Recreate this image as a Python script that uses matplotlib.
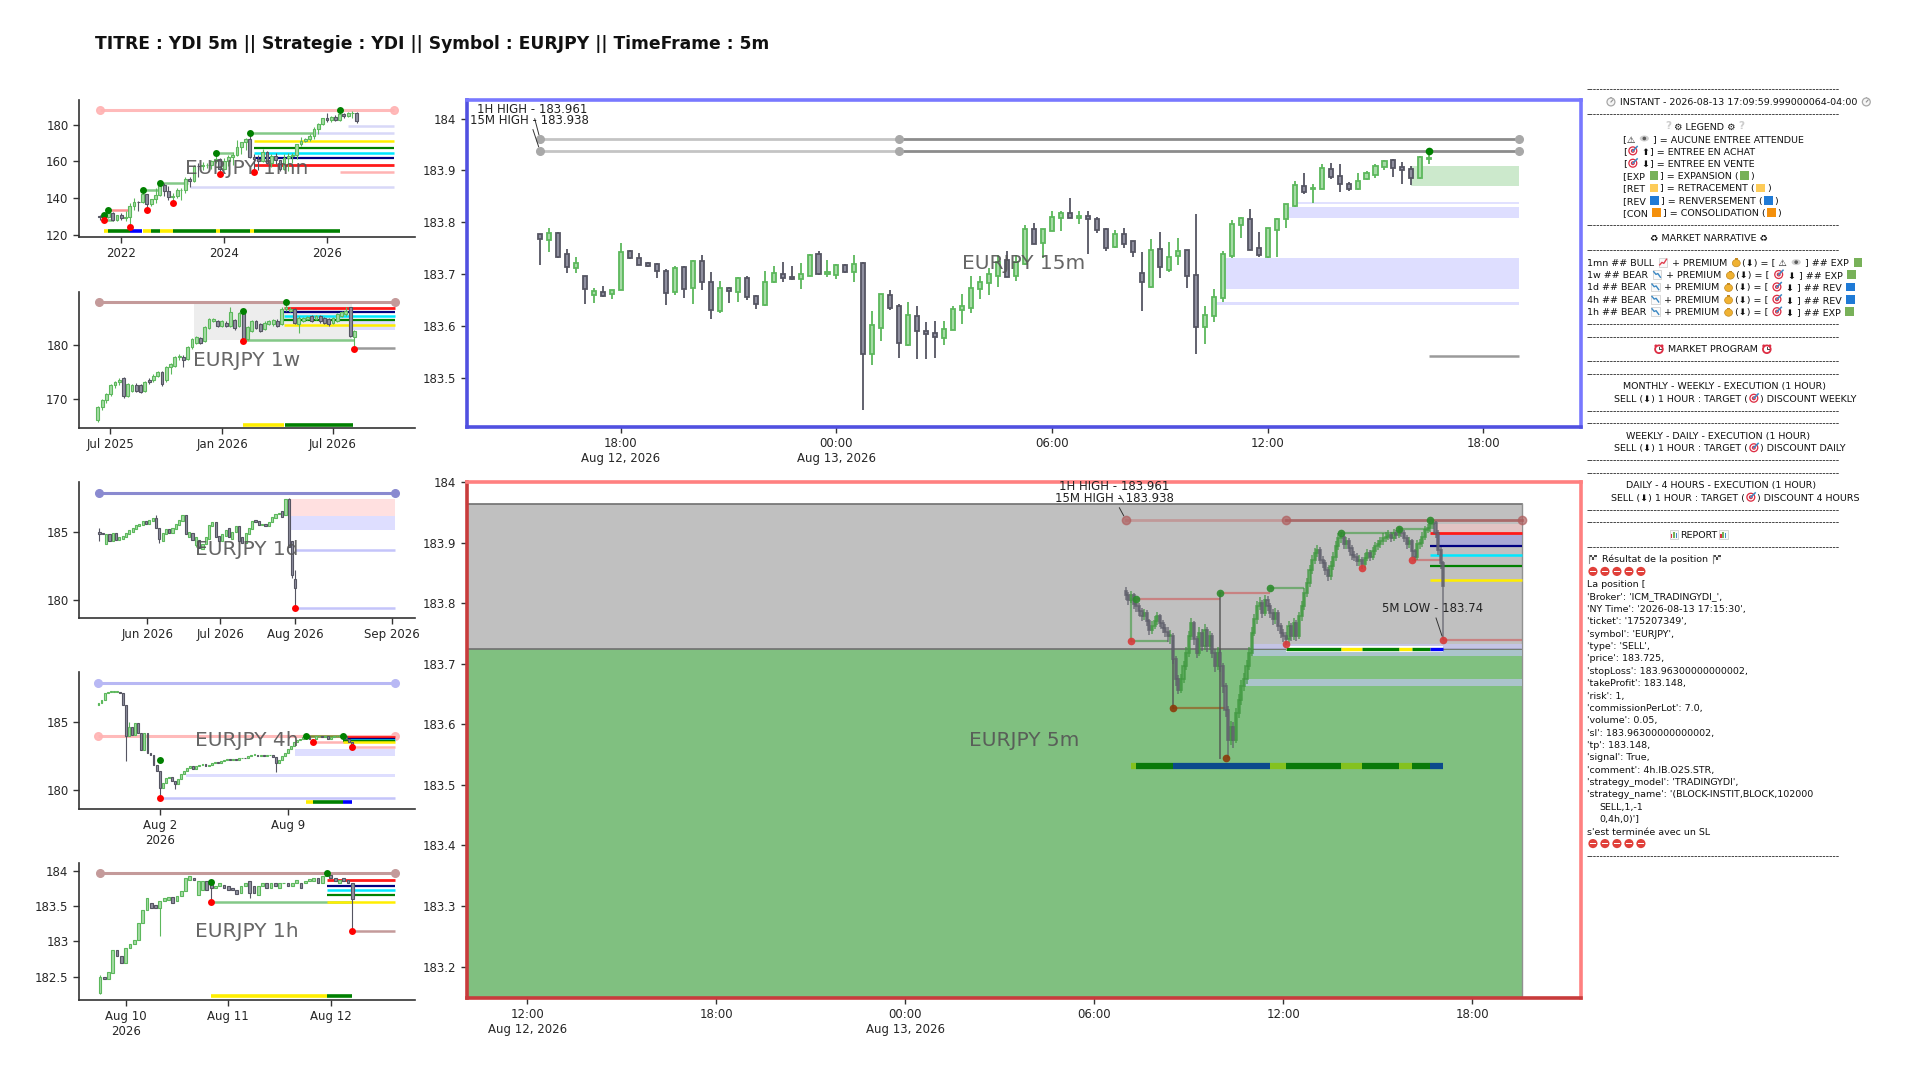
import numpy as np
import pandas as pd
import matplotlib
matplotlib.use("Agg")
import matplotlib.pyplot as plt
import matplotlib.dates as mdates
from matplotlib.ticker import FuncFormatter
from matplotlib.font_manager import FontProperties
from matplotlib.patches import Rectangle, Ellipse
from matplotlib.lines import Line2D

plt.rcParams["font.family"] = ["DejaVu Sans", "Noto Sans CJK JP"]

TITLE = "TITRE : YDI 5m || Strategie : YDI || Symbol : EURJPY || TimeFrame : 5m"
SYMBOL = "EURJPY"

# ---------------- monthly (1mn) ----------------
MN_START = "2021-08-01"
MN_OPEN = [130.0, 129.8, 129.7, 131.9, 128.1, 130.5, 129.1, 129.4, 135.6, 137.9,
           137.8, 142.0, 136.5, 139.2, 141.8, 147.1, 143.6, 140.4, 141.3, 144.2,
           144.6, 150.6, 149.1, 157.8, 157.4, 158.0, 158.0, 160.4, 161.3, 155.7,
           160.3, 162.6, 163.3, 167.9, 170.6, 172.3, 162.7, 161.6, 160.0, 165.3,
           158.9, 162.8, 160.9, 156.0, 161.9, 162.9, 163.5, 169.3, 171.0, 172.1,
           174.1, 178.0, 180.3, 183.6, 182.8, 184.6, 182.7, 185.9, 184.9, 186.3,
           186.8]
MN_HIGH = [130.5, 131.0, 133.5, 132.6, 130.6, 131.6, 133.1, 137.5, 140.0, 138.3,
           144.3, 142.3, 139.4, 145.6, 148.4, 148.4, 146.7, 142.9, 145.5, 145.6,
           151.6, 151.6, 158.0, 159.0, 159.8, 159.0, 160.9, 164.3, 161.7, 161.9,
           163.7, 165.4, 171.6, 170.9, 173.0, 175.4, 163.9, 163.4, 166.7, 166.0,
           164.3, 164.9, 160.9, 164.2, 164.5, 164.7, 169.8, 173.2, 173.0, 175.1,
           179.0, 181.0, 184.0, 186.4, 185.0, 185.3, 188.0, 186.7, 187.0, 187.6,
           187.2]
MN_LOW = [127.9, 128.3, 128.8, 127.7, 127.6, 128.2, 127.4, 124.4, 133.5, 132.7,
          137.2, 133.4, 135.7, 137.4, 141.0, 140.9, 138.8, 137.4, 139.8, 138.8,
          142.5, 146.1, 148.6, 151.4, 155.6, 156.2, 155.9, 159.2, 153.2, 155.1,
          157.7, 158.1, 163.0, 164.0, 166.1, 161.9, 154.4, 155.2, 159.8, 158.7,
          156.9, 158.8, 154.8, 155.5, 155.0, 159.3, 161.2, 168.6, 170.7, 171.2,
          172.3, 175.2, 179.8, 181.4, 181.5, 181.9, 182.0, 183.6, 184.2, 184.0,
          181.1]
MN_CLOSE = [129.8, 129.7, 131.9, 128.1, 130.5, 129.1, 129.4, 135.6, 137.9, 137.8,
            142.0, 136.5, 139.2, 141.8, 147.1, 143.6, 140.4, 141.3, 144.2, 144.6,
            150.6, 149.1, 157.8, 157.4, 158.0, 158.0, 160.4, 161.3, 155.7, 160.3,
            162.6, 163.3, 167.9, 170.6, 172.3, 162.7, 161.6, 160.0, 165.3, 158.9,
            162.8, 160.9, 156.0, 161.9, 162.9, 163.5, 169.3, 171.0, 172.1, 174.1,
            178.0, 180.3, 183.6, 182.8, 184.6, 182.7, 185.9, 184.9, 186.3, 186.8,
            182.0]
MN_END = "2027-04-25"
MN_HI = [("2021-09-01", 130.6), ("2021-10-01", 133.3), ("2022-06-01", 144.3),
         ("2022-10-01", 148.3), ("2023-11-01", 164.4), ("2024-07-01", 175.4),
         ("2026-04-01", 188.0)]
MN_LO = [("2021-09-01", 127.9), ("2022-03-01", 124.4), ("2022-07-01", 133.3),
         ("2023-01-01", 137.4), ("2023-12-01", 153.2), ("2024-08-01", 154.4)]
MN_LEVELS = [
    ("2021-08-01", MN_END, 188.0, "top_pink"),
    ("2026-06-01", MN_END, 179.6, "lav"),
    ("2025-10-01", MN_END, 175.4, "lav"),
    ("2024-07-01", "2025-09-25", 175.4, "swing_green"),
    ("2024-08-01", MN_END, 171.2, "yellow"),
    ("2024-08-01", MN_END, 167.2, "green"),
    ("2024-08-01", MN_END, 164.4, "cyan"),
    ("2024-08-01", MN_END, 161.7, "navy"),
    ("2024-08-01", MN_END, 158.0, "red"),
    ("2026-04-01", MN_END, 154.4, "pink"),
    ("2023-05-01", MN_END, 145.8, "lav"),
    ("2023-11-01", "2024-03-05", 164.4, "swing_green"),
    ("2022-10-01", "2023-04-20", 148.3, "swing_green"),
    ("2022-06-01", "2022-10-01", 144.3, "swing_green"),
    ("2021-10-01", "2022-03-01", 133.3, "swing_red"),
    ("2021-09-01", "2021-11-01", 128.2, "swing_green"),
]
MN_BAR_Y = 122.2
MN_BAR = [("2021-09-01", "2021-10-01", "yellow"), ("2021-10-01", "2022-03-01", "green"),
          ("2022-03-01", "2022-05-25", "blue"), ("2022-06-01", "2022-08-01", "yellow"),
          ("2022-08-01", "2022-10-01", "green"), ("2022-10-01", "2023-01-01", "yellow"),
          ("2023-01-01", "2023-11-01", "green"), ("2023-11-01", "2023-12-01", "yellow"),
          ("2023-12-01", "2024-07-01", "green"), ("2024-07-01", "2024-08-01", "yellow"),
          ("2024-08-01", "2026-04-01", "green")]

# ---------------- weekly (1w) ----------------
W_START = "2025-06-11"
W_OPEN = [166.0, 168.5, 169.7, 170.8, 172.5, 173.1, 173.9, 170.6, 171.5, 172.5,
          172.5, 171.5, 173.4, 173.4, 174.3, 174.9, 173.4, 175.8, 176.1, 177.7,
          177.7, 177.4, 179.5, 180.4, 181.2, 180.7, 183.1, 184.4, 184.4, 183.5,
          184.1, 183.5, 184.5, 183.5, 186.3, 181.0, 182.6, 184.4, 183.8, 182.9,
          183.8, 183.8, 184.4, 183.8, 186.6, 186.3, 186.6, 183.8, 184.4, 184.7,
          185.3, 184.7, 185.3, 185.0, 184.7, 184.1, 184.4, 185.3, 185.6, 186.9,
          181.4]
W_HIGH = [168.6, 170.0, 171.0, 172.7, 173.3, 173.8, 174.1, 173.0, 172.7, 172.9,
          172.8, 173.3, 173.8, 174.5, 175.2, 175.1, 176.0, 176.6, 177.9, 178.2,
          178.1, 179.7, 181.3, 181.6, 181.5, 183.4, 185.0, 184.9, 184.6, 184.6,
          184.3, 186.9, 184.7, 186.0, 186.4, 183.4, 184.6, 184.6, 184.0, 184.4,
          184.6, 184.8, 184.7, 186.9, 187.9, 186.9, 186.8, 185.3, 185.2, 185.4,
          185.5, 185.5, 185.5, 185.2, 184.9, 185.2, 185.8, 186.2, 186.9, 187.0,
          182.8]
W_LOW = [165.8, 167.9, 169.2, 170.5, 172.0, 172.6, 170.1, 170.3, 171.3, 171.2,
         171.0, 171.3, 172.8, 173.1, 174.0, 172.4, 173.1, 174.5, 175.8, 177.2,
         175.8, 177.1, 179.3, 180.1, 180.2, 180.5, 182.9, 184.2, 183.3, 183.2,
         183.3, 183.3, 182.8, 183.3, 180.7, 180.8, 182.3, 182.9, 182.3, 182.7,
         183.6, 183.5, 183.3, 183.6, 186.3, 186.1, 183.8, 182.2, 184.2, 184.5,
         184.2, 184.5, 184.1, 183.8, 183.5, 183.9, 184.2, 185.1, 185.4, 181.5,
         179.3]
W_CLOSE = [168.5, 169.7, 170.8, 172.5, 173.1, 173.5, 170.6, 172.8, 172.5, 171.5,
           171.2, 173.1, 173.2, 174.3, 174.9, 172.8, 175.8, 176.4, 177.7, 178.0,
           177.1, 179.5, 181.0, 181.4, 180.4, 183.2, 184.7, 184.7, 183.5, 184.4,
           183.5, 186.0, 183.1, 185.8, 180.9, 183.2, 184.4, 183.1, 182.6, 184.1,
           184.4, 184.5, 183.5, 186.7, 186.9, 186.6, 184.1, 185.0, 185.0, 185.2,
           184.4, 185.3, 184.4, 184.1, 183.8, 185.0, 185.6, 186.0, 186.3, 181.7,
           182.6]
W_END = "2026-10-11"
W_HI = [("2026-02-04", 186.2), ("2026-04-15", 187.9)]
W_LO = [("2026-02-04", 180.7), ("2026-08-05", 179.3)]
W_BOX = ("2025-11-16", "2026-08-01", 180.86, 187.6)
W_ZONES = [("2026-08-01", W_END, 182.7, 184.4, "lav_zone")]
W_LEVELS = [
    ("2025-06-13", W_END, 187.9, "top_rosy"),
    ("2026-04-11", W_END, 186.87, "red"),
    ("2026-04-11", W_END, 186.07, "navy"),
    ("2026-04-11", W_END, 185.34, "cyan"),
    ("2026-04-11", W_END, 184.6, "green"),
    ("2026-04-11", W_END, 183.62, "yellow"),
    ("2026-02-04", "2026-08-05", 180.86, "swing_green"),
    ("2026-08-05", W_END, 179.33, "gray"),
]
W_BAR_Y = 165.2
W_BAR = [("2026-02-04", "2026-04-11", "yellow"), ("2026-04-13", "2026-08-03", "green")]

# ---------------- daily (1d), trading-day index ----------------
D1_OPEN = [185.0, 184.9, 184.1, 184.8, 184.3, 184.9, 184.4, 184.5, 184.6, 184.8,
           185.0, 185.2, 185.4, 185.5, 185.8, 185.6, 185.8, 186.0, 185.3, 184.3,
           184.8, 185.2, 184.9, 185.2, 185.5, 185.8, 186.2, 184.6, 184.9, 184.0,
           184.4, 183.7, 184.1, 184.5, 185.4, 185.7, 184.7, 184.3, 184.7, 185.3,
           184.5, 185.0, 185.4, 184.6, 184.2, 184.8, 185.2, 185.9, 185.8, 185.5,
           185.6, 185.4, 185.7, 186.0, 186.3, 186.5, 186.2, 187.4, 184.3, 181.5]
D1_CLOSE = [184.8, 184.8, 184.8, 184.3, 184.9, 184.4, 184.6, 184.7, 184.9, 185.1,
            185.3, 185.5, 185.6, 185.8, 185.6, 185.9, 186.0, 185.3, 184.5, 184.9,
            185.2, 184.9, 185.3, 185.6, 185.9, 186.2, 184.8, 185.0, 184.4, 184.6,
            183.8, 184.1, 184.6, 185.5, 185.7, 184.6, 184.3, 184.8, 185.1, 184.6,
            185.0, 185.4, 184.3, 184.2, 184.9, 185.3, 185.8, 185.7, 185.5, 185.6,
            185.4, 185.7, 186.1, 186.3, 186.4, 186.1, 187.4, 183.9, 181.8, 180.9]
D1_WICK_HI = {0: 185.3, 17: 186.2, 57: 187.5, 59: 182.2}
D1_WICK_LO = {0: 184.3, 18: 184.2, 29: 183.9, 58: 181.6, 59: 179.4}
D1_END = 88.9
D1_XTICKS = [14.4, 36.4, 59.0, 88.1]
D1_XLABELS = ["Jun 2026", "Jul 2026", "Aug 2026", "Sep 2026"]
D1_LEVELS = [(0, D1_END, 187.88, "top_slate"),
             (59, D1_END, 183.66, "lav_line"),
             (59, D1_END, 179.39, "lav_line")]
D1_ZONES = [(56.8, D1_END, 186.17, 187.44, "pink_zone"),
            (56.8, D1_END, 185.12, 186.17, "lav_zone")]
D1_LO = [(59, 179.4)]

# ---------------- 4 hours (4h) ----------------
H4_START = "2026-07-29 16:00"
H4_FIRST_OPEN = 186.27
H4_CLOSE = [186.39, 186.63, 187.17, 187.24, 187.24, 187.24, 187.24, 187.17, 186.27, 183.95,
            184.68, 184.07, 184.93, 184.20, 182.98, 184.20, 182.73, 182.61, 181.88, 181.39,
            180.17, 180.54, 180.90, 180.98, 180.66, 180.41, 180.83, 181.22, 181.39, 181.63,
            181.76, 181.56, 181.76, 181.88, 181.95, 181.76, 181.88, 182.00, 182.10, 182.00,
            182.17, 182.24, 182.29, 182.20, 182.29, 182.24, 182.34, 182.39, 182.34, 182.49,
            182.59, 182.61, 182.54, 182.61, 182.49, 182.56, 182.59, 182.44, 182.00, 182.20,
            182.49, 182.73, 183.02, 183.22, 183.51, 183.71, 183.80, 183.88, 183.95, 183.80,
            183.76, 183.95, 184.00, 183.88, 183.95, 183.80, 183.90, 183.95, 184.00, 184.02,
            183.95, 183.76, 183.51, 183.41]
H4_WICK_HI = {10: 185.05}
H4_WICK_LO = {9: 182.12, 20: 179.39, 25: 180.05, 58: 181.32, 70: 183.54, 83: 183.17}
H4_END = "2026-08-14 19:40"
H4_LEVELS = [
    (H4_START, H4_END, 187.9, "top_lav"),
    (H4_START, H4_END, 183.95, "top_pink"),
    ("2026-08-02 00:00", H4_END, 179.39, "lav_line"),
    ("2026-08-10 00:00", "2026-08-12 00:00", 183.95, "olive"),
    ("2026-08-10 08:00", "2026-08-12 08:00", 183.54, "pink"),
    ("2026-08-12 00:00", H4_END, 183.88, "red"),
    ("2026-08-12 00:00", H4_END, 183.78, "navy"),
    ("2026-08-12 00:00", H4_END, 183.70, "cyan"),
    ("2026-08-12 00:00", H4_END, 183.62, "green"),
    ("2026-08-12 00:00", H4_END, 183.54, "yellow"),
    ("2026-08-12 12:00", H4_END, 183.17, "pink"),
]
H4_ZONES = [("2026-08-09 08:40", H4_END, 182.5, 183.0, "lav_zone"),
            ("2026-08-03 11:00", H4_END, 180.98, 181.15, "lav_zone")]
H4_HI = [("2026-08-02 00:00", 182.24), ("2026-08-10 00:00", 183.95), ("2026-08-12 00:00", 183.95)]
H4_LO = [("2026-08-02 00:00", 179.39), ("2026-08-10 08:00", 183.54), ("2026-08-12 12:00", 183.17)]
H4_BAR_Y = 179.12
H4_BAR = [("2026-08-10 00:00", "2026-08-10 08:00", "yellow"),
          ("2026-08-10 08:00", "2026-08-12 00:00", "green"),
          ("2026-08-12 00:00", "2026-08-12 12:00", "blue")]

# ---------------- 1 hour (1h) ----------------
H1_START = "2026-08-09 18:00"
H1_OPEN = [182.27, 182.50, 182.46, 182.55, 182.88, 182.79, 182.70, 182.91, 182.96, 183.02,
           183.26, 183.45, 183.54, 183.52, 183.47, 183.57, 183.59, 183.63, 183.57, 183.64,
           183.71, 183.87, 183.90, 183.66, 183.73, 183.85, 183.83, 183.75, 183.78, 183.80,
           183.78, 183.75, 183.73, 183.68, 183.78, 183.85, 183.78, 183.66, 183.78, 183.83,
           183.75, 183.83, 183.75, 183.82, 183.83, 183.79, 183.83, 183.83, 183.83, 183.86,
           183.85, 183.90, 183.83, 183.92, 183.94, 183.90, 183.83, 183.90, 183.87, 183.82]
H1_CLOSE = [182.50, 182.46, 182.56, 182.88, 182.79, 182.70, 182.91, 182.96, 183.02, 183.26,
            183.45, 183.61, 183.47, 183.47, 183.57, 183.61, 183.63, 183.54, 183.64, 183.71,
            183.90, 183.92, 183.87, 183.85, 183.85, 183.73, 183.75, 183.79, 183.82, 183.75,
            183.73, 183.73, 183.67, 183.78, 183.83, 183.68, 183.68, 183.78, 183.83, 183.75,
            183.83, 183.78, 183.83, 183.83, 183.79, 183.83, 183.87, 183.76, 183.86, 183.88,
            183.90, 183.83, 183.92, 183.97, 183.90, 183.85, 183.87, 183.86, 183.83, 183.60]
H1_WICK_HI = {0: 182.52, 26: 183.84}
H1_WICK_LO = {0: 182.25, 14: 183.07, 26: 183.55, 35: 183.62, 59: 183.15}
H1_END = "2026-08-12 15:00"
H1_LEVELS = [
    (H1_START, H1_END, 183.97, "top_rosy"),
    ("2026-08-10 20:00", "2026-08-12 05:00", 183.55, "swing_green"),
    ("2026-08-11 23:00", H1_END, 183.87, "red"),
    ("2026-08-11 23:00", H1_END, 183.79, "navy"),
    ("2026-08-11 23:00", H1_END, 183.72, "cyan"),
    ("2026-08-11 23:00", H1_END, 183.65, "green"),
    ("2026-08-11 23:00", H1_END, 183.56, "yellow"),
    ("2026-08-12 05:00", H1_END, 183.15, "rosy"),
]
H1_HI = [("2026-08-10 20:00", 183.84), ("2026-08-11 23:00", 183.97)]
H1_LO = [("2026-08-10 20:00", 183.55), ("2026-08-12 05:00", 183.15)]
H1_BAR_Y = 182.22
H1_BAR = [("2026-08-10 20:00", "2026-08-11 23:00", "yellow"),
          ("2026-08-11 23:00", "2026-08-12 05:00", "green")]

# ---------------- 15 minutes (main top) ----------------
M15_START = "2026-08-12 15:45"
M15_OPEN = [183.777, 183.765, 183.779, 183.738, 183.712, 183.696, 183.660, 183.666, 183.662, 183.670,
            183.744, 183.732, 183.721, 183.719, 183.707, 183.665, 183.713, 183.673, 183.726, 183.685,
            183.628, 183.673, 183.665, 183.693, 183.658, 183.640, 183.684, 183.701, 183.695, 183.691,
            183.697, 183.738, 183.701, 183.699, 183.717, 183.705, 183.721, 183.546, 183.597, 183.660,
            183.639, 183.564, 183.620, 183.591, 183.587, 183.576, 183.592, 183.631, 183.635, 183.672,
            183.683, 183.696, 183.728, 183.696, 183.719, 183.787, 183.760, 183.783, 183.809, 183.818,
            183.809, 183.813, 183.806, 183.787, 183.752, 183.777, 183.763, 183.702, 183.676, 183.749,
            183.708, 183.735, 183.746, 183.699, 183.598, 183.619, 183.654, 183.735, 183.794, 183.806,
            183.751, 183.734, 183.785, 183.806, 183.832, 183.871, 183.864, 183.865, 183.903, 183.890,
            183.874, 183.864, 183.883, 183.891, 183.906, 183.920, 183.907, 183.902, 183.886, 183.922]
M15_HIGH = [183.777, 183.790, 183.781, 183.749, 183.734, 183.696, 183.673, 183.678, 183.669, 183.760,
            183.747, 183.740, 183.724, 183.721, 183.710, 183.715, 183.715, 183.728, 183.737, 183.704,
            183.687, 183.676, 183.694, 183.697, 183.660, 183.706, 183.715, 183.724, 183.715, 183.721,
            183.738, 183.744, 183.728, 183.720, 183.720, 183.737, 183.723, 183.628, 183.662, 183.670,
            183.642, 183.646, 183.639, 183.608, 183.609, 183.610, 183.639, 183.662, 183.696, 183.696,
            183.712, 183.737, 183.744, 183.737, 183.795, 183.798, 183.788, 183.822, 183.822, 183.846,
            183.822, 183.821, 183.810, 183.789, 183.785, 183.790, 183.763, 183.742, 183.768, 183.782,
            183.762, 183.769, 183.746, 183.817, 183.639, 183.671, 183.745, 183.804, 183.811, 183.825,
            183.781, 183.790, 183.809, 183.836, 183.879, 183.896, 183.874, 183.913, 183.915, 183.912,
            183.877, 183.896, 183.899, 183.912, 183.921, 183.923, 183.917, 183.908, 183.928, 183.929]
M15_LOW = [183.718, 183.742, 183.731, 183.702, 183.703, 183.642, 183.644, 183.656, 183.653, 183.670,
           183.729, 183.717, 183.714, 183.692, 183.640, 183.660, 183.654, 183.642, 183.670, 183.614,
           183.625, 183.644, 183.646, 183.651, 183.633, 183.638, 183.683, 183.685, 183.689, 183.672,
           183.696, 183.699, 183.694, 183.691, 183.702, 183.684, 183.437, 183.524, 183.571, 183.631,
           183.538, 183.561, 183.537, 183.537, 183.538, 183.564, 183.592, 183.603, 183.625, 183.653,
           183.660, 183.676, 183.694, 183.687, 183.718, 183.758, 183.731, 183.783, 183.783, 183.808,
           183.797, 183.738, 183.780, 183.745, 183.750, 183.750, 183.734, 183.628, 183.674, 183.692,
           183.704, 183.718, 183.673, 183.546, 183.565, 183.607, 183.647, 183.731, 183.769, 183.747,
           183.734, 183.732, 183.734, 183.790, 183.830, 183.854, 183.838, 183.865, 183.883, 183.859,
           183.861, 183.862, 183.881, 183.886, 183.901, 183.888, 183.873, 183.872, 183.883, 183.912]
M15_CLOSE = [183.767, 183.780, 183.734, 183.713, 183.722, 183.672, 183.668, 183.658, 183.669, 183.742,
             183.731, 183.718, 183.716, 183.706, 183.663, 183.712, 183.671, 183.726, 183.684, 183.631,
             183.674, 183.667, 183.692, 183.655, 183.642, 183.684, 183.702, 183.692, 183.691, 183.700,
             183.737, 183.700, 183.705, 183.717, 183.705, 183.720, 183.546, 183.601, 183.661, 183.635,
             183.567, 183.622, 183.591, 183.585, 183.578, 183.594, 183.633, 183.639, 183.673, 183.684,
             183.700, 183.724, 183.694, 183.724, 183.787, 183.758, 183.787, 183.810, 183.818, 183.809,
             183.813, 183.806, 183.786, 183.750, 183.777, 183.758, 183.742, 183.685, 183.746, 183.713,
             183.734, 183.745, 183.696, 183.598, 183.622, 183.655, 183.738, 183.796, 183.808, 183.747,
             183.737, 183.790, 183.806, 183.835, 183.872, 183.859, 183.867, 183.905, 183.887, 183.873,
             183.864, 183.880, 183.895, 183.909, 183.919, 183.905, 183.901, 183.886, 183.926, 183.925]
M15_END = "2026-08-13 19:00"
M15_HIGHS_1H = 183.961
M15_HIGHS_15M = 183.938
M15_HIGH_SPLIT = "2026-08-13 01:45"
M15_ZONES = [("2026-08-13 16:00", M15_END, 183.871, 183.908, "green_zone"),
             ("2026-08-13 12:30", M15_END, 183.809, 183.829, "lav_zone"),
             ("2026-08-13 10:45", M15_END, 183.672, 183.732, "lav_zone"),
             ("2026-08-13 10:30", M15_END, 183.640, 183.647, "lav_zone")]
M15_LEVELS = [("2026-08-13 12:45", M15_END, 183.837, "lav_thin"),
              ("2026-08-13 16:30", M15_END, 183.543, "gray")]
M15_HI = [("2026-08-13 16:30", 183.938)]
M15_XTICKS = ["2026-08-12 18:00", "2026-08-13 00:00", "2026-08-13 06:00",
              "2026-08-13 12:00", "2026-08-13 18:00"]
M15_XLABELS = ["18:00\nAug 12, 2026", "00:00\nAug 13, 2026", "06:00", "12:00", "18:00"]
M15_YTICKS = [183.5, 183.6, 183.7, 183.8, 183.9, 184.0]

# ---------------- 5 minutes (main bottom, position) ----------------
M5_START = "2026-08-13 07:00"
M5_FIRST_OPEN = 183.820
M5_CLOSE = [183.814, 183.806, 183.814, 183.798, 183.795, 183.787, 183.778, 183.784, 183.770, 183.756,
            183.762, 183.770, 183.778, 183.767, 183.759, 183.753, 183.745, 183.745, 183.707, 183.674,
            183.657, 183.674, 183.696, 183.718, 183.745, 183.767, 183.740, 183.718, 183.751, 183.729,
            183.756, 183.729, 183.745, 183.718, 183.696, 183.718, 183.696, 183.663, 183.624, 183.574,
            183.596, 183.574, 183.618, 183.640, 183.663, 183.674, 183.696, 183.718, 183.751, 183.773,
            183.795, 183.800, 183.784, 183.806, 183.795, 183.784, 183.773, 183.784, 183.762, 183.751,
            183.745, 183.740, 183.762, 183.745, 183.767, 183.745, 183.778, 183.795, 183.817, 183.833,
            183.855, 183.872, 183.883, 183.888, 183.872, 183.866, 183.855, 183.844, 183.861, 183.877,
            183.894, 183.908, 183.910, 183.897, 183.902, 183.891, 183.880, 183.877, 183.869, 183.872,
            183.864, 183.875, 183.883, 183.877, 183.886, 183.894, 183.897, 183.902, 183.908, 183.910,
            183.913, 183.908, 183.916, 183.913, 183.919, 183.916, 183.908, 183.897, 183.902, 183.886,
            183.877, 183.897, 183.899, 183.910, 183.921, 183.924, 183.930, 183.933, 183.916, 183.888,
            183.866, 183.828]
M5_HIGH = [183.826, 183.818, 183.820, 183.816, 183.806, 183.800, 183.792, 183.791, 183.789, 183.774,
           183.770, 183.779, 183.786, 183.782, 183.772, 183.765, 183.760, 183.755, 183.750, 183.713,
           183.682, 183.683, 183.704, 183.727, 183.754, 183.776, 183.771, 183.746, 183.760, 183.757,
           183.765, 183.761, 183.754, 183.750, 183.724, 183.727, 183.722, 183.701, 183.668, 183.630,
           183.606, 183.604, 183.627, 183.650, 183.673, 183.684, 183.706, 183.728, 183.760, 183.782,
           183.804, 183.810, 183.806, 183.814, 183.812, 183.800, 183.790, 183.792, 183.788, 183.768,
           183.758, 183.752, 183.770, 183.768, 183.775, 183.772, 183.786, 183.803, 183.825, 183.841,
           183.863, 183.880, 183.891, 183.896, 183.893, 183.878, 183.871, 183.860, 183.869, 183.885,
           183.902, 183.915, 183.917, 183.914, 183.909, 183.907, 183.896, 183.886, 183.882, 183.879,
           183.877, 183.882, 183.890, 183.888, 183.893, 183.901, 183.904, 183.909, 183.915, 183.917,
           183.920, 183.918, 183.923, 183.921, 183.925, 183.924, 183.921, 183.912, 183.909, 183.906,
           183.890, 183.904, 183.906, 183.917, 183.928, 183.931, 183.936, 183.937, 183.936, 183.920,
           183.893, 183.870]
M5_LOW = [183.806, 183.797, 183.800, 183.790, 183.786, 183.779, 183.770, 183.772, 183.762, 183.748,
          183.749, 183.757, 183.764, 183.760, 183.751, 183.744, 183.736, 183.733, 183.700, 183.664,
          183.650, 183.651, 183.668, 183.690, 183.711, 183.739, 183.731, 183.709, 183.712, 183.721,
          183.722, 183.720, 183.722, 183.709, 183.686, 183.690, 183.686, 183.652, 183.612, 183.545,
          183.566, 183.560, 183.569, 183.610, 183.632, 183.655, 183.667, 183.690, 183.712, 183.745,
          183.766, 183.788, 183.776, 183.778, 183.787, 183.776, 183.764, 183.766, 183.754, 183.742,
          183.736, 183.731, 183.734, 183.737, 183.739, 183.737, 183.740, 183.771, 183.789, 183.810,
          183.827, 183.848, 183.865, 183.876, 183.864, 183.858, 183.847, 183.836, 183.838, 183.854,
          183.870, 183.887, 183.900, 183.889, 183.890, 183.884, 183.872, 183.869, 183.861, 183.862,
          183.857, 183.858, 183.869, 183.870, 183.871, 183.880, 183.887, 183.891, 183.896, 183.901,
          183.904, 183.901, 183.902, 183.906, 183.907, 183.909, 183.901, 183.889, 183.891, 183.876,
          183.869, 183.871, 183.890, 183.893, 183.904, 183.915, 183.918, 183.922, 183.908, 183.879,
          183.857, 183.739]
M5_END = "2026-08-13 19:35"
M5_ZONE_FROM = "2026-08-12 10:05"
POS_SL = 183.963
POS_PRICE = 183.725
POS_TP = 183.148
M5_HIGH_SPLIT = "2026-08-13 12:05"
M5_HI = [("2026-08-13 07:20", 183.807), ("2026-08-13 10:00", 183.816), ("2026-08-13 11:35", 183.825),
         ("2026-08-13 13:50", 183.916), ("2026-08-13 15:40", 183.923), ("2026-08-13 16:40", 183.937)]
M5_LO = [("2026-08-13 07:10", 183.738), ("2026-08-13 12:05", 183.733), ("2026-08-13 14:30", 183.858),
         ("2026-08-13 16:05", 183.871), ("2026-08-13 17:05", 183.739)]
M5_LO_DEEP = [("2026-08-13 08:30", 183.627), ("2026-08-13 10:10", 183.545)]
M5_LEVELS = [
    ("2026-08-13 07:20", "2026-08-13 10:00", 183.807, "soft_red"),
    ("2026-08-13 07:10", "2026-08-13 08:20", 183.738, "soft_green"),
    ("2026-08-13 10:00", "2026-08-13 11:35", 183.816, "soft_red"),
    ("2026-08-13 11:35", "2026-08-13 12:40", 183.825, "soft_green"),
    ("2026-08-13 08:30", "2026-08-13 10:10", 183.627, "brown"),
    ("2026-08-13 13:50", "2026-08-13 15:30", 183.916, "soft_green"),
    ("2026-08-13 15:40", "2026-08-13 16:35", 183.923, "soft_green"),
    ("2026-08-13 16:05", "2026-08-13 17:00", 183.871, "soft_red"),
    ("2026-08-13 17:05", M5_END, 183.739, "soft_red"),
    ("2026-08-13 16:40", M5_END, 183.915, "red"),
    ("2026-08-13 16:40", M5_END, 183.895, "navy"),
    ("2026-08-13 16:40", M5_END, 183.879, "cyan"),
    ("2026-08-13 16:40", M5_END, 183.861, "green"),
    ("2026-08-13 16:40", M5_END, 183.839, "yellow"),
]
M5_LINKS = [("2026-08-13 07:10", 183.738, 183.807, "soft_green"),
            ("2026-08-13 08:30", 183.627, 183.738, "dark_link"),
            ("2026-08-13 10:00", 183.545, 183.816, "dark_link")]
M5_ZONES = [("2026-08-13 16:50", M5_END, 183.916, 183.930, "pink_zone"),
            ("2026-08-13 16:50", M5_END, 183.895, 183.916, "blue_zone"),
            ("2026-08-13 11:00", M5_END, 183.725, 183.733, "lav_zone"),
            ("2026-08-13 11:00", M5_END, 183.712, 183.723, "lav_zone"),
            ("2026-08-13 10:45", M5_END, 183.663, 183.674, "lav_zone")]
M5_BAR_HI_Y = 183.725
M5_BAR_HI = [("2026-08-13 12:05", "2026-08-13 13:50", "green"), ("2026-08-13 13:50", "2026-08-13 14:30", "yellow"),
             ("2026-08-13 14:30", "2026-08-13 15:40", "green"), ("2026-08-13 15:40", "2026-08-13 16:05", "yellow"),
             ("2026-08-13 16:05", "2026-08-13 16:40", "green"), ("2026-08-13 16:40", "2026-08-13 17:05", "blue")]
M5_BAR_LO_Y = 183.531
M5_BAR_LO = [("2026-08-13 07:10", "2026-08-13 07:20", "yg"), ("2026-08-13 07:20", "2026-08-13 08:30", "dgreen"),
             ("2026-08-13 08:30", "2026-08-13 10:00", "dblue"), ("2026-08-13 10:00", "2026-08-13 10:10", "dblue"),
             ("2026-08-13 10:10", "2026-08-13 11:35", "dblue"), ("2026-08-13 11:35", "2026-08-13 12:05", "yg"),
             ("2026-08-13 12:05", "2026-08-13 13:50", "dgreen"), ("2026-08-13 13:50", "2026-08-13 14:30", "yg"),
             ("2026-08-13 14:30", "2026-08-13 15:40", "dgreen"), ("2026-08-13 15:40", "2026-08-13 16:05", "yg"),
             ("2026-08-13 16:05", "2026-08-13 16:40", "dgreen"), ("2026-08-13 16:40", "2026-08-13 17:05", "dblue")]
M5_XTICKS = ["2026-08-12 12:00", "2026-08-12 18:00", "2026-08-13 00:00",
             "2026-08-13 06:00", "2026-08-13 12:00", "2026-08-13 18:00"]
M5_XLABELS = ["12:00\nAug 12, 2026", "18:00", "00:00\nAug 13, 2026", "06:00", "12:00", "18:00"]
M5_YTICKS = [183.2, 183.3, 183.4, 183.5, 183.6, 183.7, 183.8, 183.9, 184.0]

# ---------------- right side report ----------------
DASH = "-" * 75
INFO_LINES = [
    DASH,
    "⏱ INSTANT - 2026-08-13 17:09:59.999000064-04:00 ⏱",
    DASH,
    "❔⚙ LEGEND ⚙❔",
    "[⚠ 👁 ] = AUCUNE ENTREE ATTENDUE",
    "[🎯 ⬆] = ENTREE EN ACHAT",
    "[🎯 ⬇] = ENTREE EN VENTE",
    "[EXP 🟩] = EXPANSION (🟩)",
    "[RET 🟨] = RETRACEMENT (🟨)",
    "[REV 🟦] = RENVERSEMENT (🟦)",
    "[CON 🟧] = CONSOLIDATION (🟧)",
    DASH,
    "♻ MARKET NARRATIVE ♻",
    DASH,
    "1mn ## BULL 📈 + PREMIUM 💰(⬇) = [ ⚠ 👁 ] ## EXP 🟩",
    "1w ## BEAR 📉 + PREMIUM 💰(⬇) = [ 🎯 ⬇ ] ## EXP 🟩",
    "1d ## BEAR 📉 + PREMIUM 💰(⬇) = [ 🎯 ⬇ ] ## REV 🟦",
    "4h ## BEAR 📉 + PREMIUM 💰(⬇) = [ 🎯 ⬇ ] ## REV 🟦",
    "1h ## BEAR 📉 + PREMIUM 💰(⬇) = [ 🎯 ⬇ ] ## EXP 🟩",
    DASH,
    DASH,
    "⏰ MARKET PROGRAM ⏰",
    DASH,
    DASH,
    "MONTHLY - WEEKLY - EXECUTION (1 HOUR)",
    "SELL (⬇) 1 HOUR : TARGET (🎯) DISCOUNT WEEKLY",
    DASH,
    DASH,
    "WEEKLY - DAILY - EXECUTION (1 HOUR)",
    "SELL (⬇) 1 HOUR : TARGET (🎯) DISCOUNT DAILY",
    DASH,
    DASH,
    "DAILY - 4 HOURS - EXECUTION (1 HOUR)",
    "SELL (⬇) 1 HOUR : TARGET (🎯) DISCOUNT 4 HOURS",
    DASH,
    DASH,
    "📊REPORT📊",
    DASH,
    "🏁 Résultat de la position 🏁",
    "⛔⛔⛔⛔⛔",
    "La position [",
    "'Broker': 'ICM_TRADINGYDI_',",
    "'NY Time': '2026-08-13 17:15:30',",
    "'ticket': '175207349',",
    "'symbol': 'EURJPY',",
    "'type': 'SELL',",
    "'price': 183.725,",
    "'stopLoss': 183.96300000000002,",
    "'takeProfit': 183.148,",
    "'risk': 1,",
    "'commissionPerLot': 7.0,",
    "'volume': 0.05,",
    "'sl': 183.96300000000002,",
    "'tp': 183.148,",
    "'signal': True,",
    "'comment': 4h.IB.O2S.STR,",
    "'strategy_model': 'TRADINGYDI',",
    "'strategy_name': '(BLOCK-INSTIT,BLOCK,102000",
    "    SELL,1,-1",
    "    0,4h,0)']",
    "s'est terminée avec un SL",
    "⛔⛔⛔⛔⛔",
    DASH,
]
CENTER_ROWS = {1, 3, 12, 21, 24, 25, 28, 29, 32, 33, 36}
LEGEND_ROWS = {4, 5, 6, 7, 8, 9, 10}
CENTER_WIDTH = 62
LEGEND_INDENT = 12

# ---------------- styles ----------------
BULL_EDGE, BULL_FACE = "#5cb85c", "#a6dba6"
BEAR_EDGE, BEAR_FACE = "#555562", "#9090a0"
LEVEL_STYLE = {
    "top_pink": ("#ffb3b3", 2.2, 0.9),
    "top_rosy": ("#c49a9a", 2.2, 1.0),
    "top_lav": ("#b8b8f4", 2.2, 1.0),
    "top_slate": ("#8a8ad0", 2.2, 1.0),
    "lav": ("#d8d8f8", 1.8, 1.0),
    "lav_line": ("#c4c4fa", 1.8, 1.0),
    "lav_thin": ("#dcdcff", 1.2, 1.0),
    "swing_green": ("#66bb6a", 1.8, 0.8),
    "swing_red": ("#ff8080", 1.8, 0.9),
    "soft_green": ("#3f9a3f", 1.6, 0.6),
    "soft_red": ("#d05050", 1.6, 0.55),
    "brown": ("#9a4a10", 1.6, 0.6),
    "dark_link": ("#505050", 1.4, 0.7),
    "olive": ("#6b8e23", 1.8, 0.9),
    "yellow": ("#ffee00", 1.8, 1.0),
    "green": ("#008000", 1.6, 1.0),
    "cyan": ("#00e8ff", 1.8, 1.0),
    "navy": ("#000080", 1.6, 1.0),
    "red": ("#ff1a1a", 2.0, 1.0),
    "pink": ("#ffb3b3", 1.8, 1.0),
    "rosy": ("#c49a9a", 1.8, 1.0),
    "gray": ("#9a9a9a", 1.8, 1.0),
}
ZONE_STYLE = {
    "lav_zone": ("#c8c8ff", 0.6),
    "pink_zone": ("#ffc8c8", 0.55),
    "blue_zone": ("#8080ff", 0.35),
    "green_zone": ("#8fd08f", 0.45),
}
BAR_COLORS = {"yellow": "#ffee00", "green": "#008000", "blue": "#0000ff",
              "yg": "#84c21e", "dgreen": "#0a7a0a", "dblue": "#0c4a8c"}
SQUARE_EMOJI = {"🟩": "#78b159", "🟨": "#fdcb58", "🟦": "#1f7ad6", "🟧": "#f4900c"}
EMOJI = set("⏰⏱⛔❔👁🎯📈📉💰📊🏁") | set(SQUARE_EMOJI)

W_PX, H_PX = 1920, 1080
INFO_SIZE = 6.8
EM = INFO_SIZE * 100 / 72


def T(s):
    return mdates.date2num(pd.Timestamp(s).to_pydatetime())


def times(start, n, freq):
    return mdates.date2num(pd.date_range(start, periods=n, freq=freq).to_pydatetime())


def wicks(o, c, hi_fix, lo_fix):
    o = np.asarray(o, float)
    c = np.asarray(c, float)
    h = np.maximum(o, c)
    l = np.minimum(o, c)
    for k, v in hi_fix.items():
        h[k] = max(h[k], v)
    for k, v in lo_fix.items():
        l[k] = min(l[k], v)
    return h, l


def draw_candles(ax, x, o, h, l, c, width, lw=0.9, alpha=1.0, min_h=0.0,
                 colors=(BULL_EDGE, BULL_FACE, BEAR_EDGE, BEAR_FACE)):
    x, o, h, l, c = (np.asarray(a, float) for a in (x, o, h, l, c))
    up = c >= o
    for m, edge, face in ((up, colors[0], colors[1]), (~up, colors[2], colors[3])):
        ax.vlines(x[m], l[m], h[m], color=edge, lw=lw, alpha=alpha, zorder=3)
        bottom = np.minimum(o, c)[m]
        height = np.maximum(np.abs(c - o)[m], min_h)
        ax.bar(x[m], height, width, bottom=bottom, color=face, edgecolor=edge,
               linewidth=lw, alpha=alpha, zorder=3.5)


def level(ax, x0, x1, y, kind, ends=False, z=2):
    color, lw, alpha = LEVEL_STYLE[kind]
    ax.plot([x0, x1], [y, y], color=color, lw=lw, alpha=alpha,
            solid_capstyle="butt", zorder=z)
    if ends:
        ax.plot([x0, x1], [y, y], "o", color=color, ms=5.5, alpha=alpha, zorder=z)


def zone(ax, x0, x1, y0, y1, kind, z=1):
    color, alpha = ZONE_STYLE[kind]
    ax.fill_between([x0, x1], y0, y1, color=color, alpha=alpha, lw=0, zorder=z)


def color_bar(ax, segments, y, lw=2.6, edge=None):
    for t0, t1, col in segments:
        if edge:
            ax.plot([T(t0), T(t1)], [y, y], color=edge, lw=lw + 2, solid_capstyle="butt", zorder=4)
        ax.plot([T(t0), T(t1)], [y, y], color=BAR_COLORS[col], lw=lw,
                solid_capstyle="butt", zorder=4.1)


def dots(ax, pts, color, ms=5, alpha=1.0, date=True):
    xs = [T(t) if date else t for t, _ in pts]
    ax.plot(xs, [v for _, v in pts], "o", color=color, ms=ms, alpha=alpha,
            mec="none", zorder=6)


def fmt_g(v, pos):
    return f"{v:g}"


def style_axis(ax, xlim, ylim, xticks, xlabels, yticks):
    ax.set_xlim(*xlim)
    ax.set_ylim(*ylim)
    ax.set_xticks(xticks)
    ax.set_xticklabels(xlabels)
    ax.set_yticks(yticks)
    ax.yaxis.set_major_formatter(FuncFormatter(fmt_g))
    ax.tick_params(direction="out", length=4, width=1, colors="#333333",
                   labelsize=8.5, labelcolor="#262626")
    ax.set_facecolor("white")


def small_frame(ax):
    for s in ("top", "right"):
        ax.spines[s].set_visible(False)
    for s in ("left", "bottom"):
        ax.spines[s].set_color("#333333")
        ax.spines[s].set_linewidth(1.2)


def tf_label(ax, tf):
    ax.text(0.5, 0.5, f"{SYMBOL} {tf}", transform=ax.transAxes, ha="center",
            va="center", fontsize=14.5, color="#555555", alpha=0.9, zorder=10)


# ---- pixel helpers for the report panel (emoji glyphs are not installed) ----
def fx(x):
    return x / W_PX


def fy(y):
    return 1 - y / H_PX


def p_rect(x0, y0, w, h, **kw):
    fig.add_artist(Rectangle((fx(x0), fy(y0 + h)), w / W_PX, h / H_PX,
                             transform=fig.transFigure, **kw))


def p_ellipse(cx, cy, w, h, **kw):
    fig.add_artist(Ellipse((fx(cx), fy(cy)), w / W_PX, h / H_PX,
                           transform=fig.transFigure, **kw))


def p_line(xs, ys, **kw):
    fig.add_artist(Line2D([fx(v) for v in xs], [fy(v) for v in ys],
                          transform=fig.transFigure, **kw))


def draw_emoji(ch, cx, cy, s):
    if ch in SQUARE_EMOJI:
        p_rect(cx - 0.45 * s, cy - 0.45 * s, 0.9 * s, 0.9 * s, facecolor=SQUARE_EMOJI[ch], edgecolor="none")
    elif ch == "⛔":
        p_ellipse(cx, cy, 0.95 * s, 0.95 * s, facecolor="#e0403a", edgecolor="none")
        p_rect(cx - 0.3 * s, cy - 0.09 * s, 0.6 * s, 0.18 * s, facecolor="white", edgecolor="none")
    elif ch == "🎯":
        for d, col in ((0.95, "#dd2e44"), (0.68, "white"), (0.42, "#dd2e44"), (0.16, "white")):
            p_ellipse(cx, cy, d * s, d * s, facecolor=col, edgecolor="none")
        p_line([cx, cx + 0.45 * s], [cy, cy - 0.45 * s], color="#3b88c3", lw=1.1)
    elif ch == "👁":
        p_ellipse(cx, cy, 0.95 * s, 0.62 * s, facecolor="#cfcfcf", edgecolor="none")
        p_ellipse(cx, cy, 0.38 * s, 0.38 * s, facecolor="#5a5a5a", edgecolor="none")
    elif ch == "⏱":
        p_ellipse(cx, cy + 0.06 * s, 0.82 * s, 0.82 * s, facecolor="#f6f6f6", edgecolor="#a8a8a8", lw=0.9)
        p_rect(cx - 0.08 * s, cy - 0.5 * s, 0.16 * s, 0.13 * s, facecolor="#a8a8a8", edgecolor="none")
        p_line([cx, cx + 0.18 * s], [cy + 0.06 * s, cy - 0.14 * s], color="#909090", lw=0.8)
    elif ch == "⏰":
        p_ellipse(cx - 0.32 * s, cy - 0.3 * s, 0.3 * s, 0.3 * s, facecolor="#dd2e44", edgecolor="none")
        p_ellipse(cx + 0.32 * s, cy - 0.3 * s, 0.3 * s, 0.3 * s, facecolor="#dd2e44", edgecolor="none")
        p_ellipse(cx, cy + 0.05 * s, 0.8 * s, 0.8 * s, facecolor="white", edgecolor="#dd2e44", lw=1.3)
        p_line([cx, cx, cx + 0.18 * s], [cy - 0.2 * s, cy + 0.05 * s, cy + 0.05 * s], color="#444444", lw=0.7)
    elif ch == "❔":
        fig.text(fx(cx), fy(cy), "?", ha="center", va="center", fontsize=7.5,
                 fontweight="bold", color="#cdcdcd")
    elif ch in ("📈", "📉"):
        p_rect(cx - 0.45 * s, cy - 0.45 * s, 0.9 * s, 0.9 * s, facecolor="#fafafa", edgecolor="#d0d0d0", lw=0.6)
        xs = [cx - 0.35 * s, cx - 0.12 * s, cx + 0.08 * s, cx + 0.35 * s]
        if ch == "📈":
            p_line(xs, [cy + 0.28 * s, cy + 0.02 * s, cy + 0.12 * s, cy - 0.3 * s], color="#e04050", lw=1.0)
        else:
            p_line(xs, [cy - 0.3 * s, cy - 0.02 * s, cy - 0.1 * s, cy + 0.28 * s], color="#3b88c3", lw=1.0)
    elif ch == "💰":
        p_ellipse(cx, cy + 0.1 * s, 0.82 * s, 0.75 * s, facecolor="#f0b232", edgecolor="#c48a20", lw=0.5)
        p_rect(cx - 0.14 * s, cy - 0.42 * s, 0.28 * s, 0.18 * s, facecolor="#c48a20", edgecolor="none")
    elif ch == "📊":
        p_rect(cx - 0.45 * s, cy - 0.45 * s, 0.9 * s, 0.9 * s, facecolor="#fafafa", edgecolor="#d0d0d0", lw=0.6)
        for dx, hh, col in ((-0.25, 0.35, "#dd2e44"), (0.0, 0.62, "#78b159"), (0.25, 0.45, "#3b88c3")):
            p_rect(cx + dx * s - 0.08 * s, cy + 0.35 * s - hh * s, 0.16 * s, hh * s, facecolor=col, edgecolor="none")
    elif ch == "🏁":
        p_line([cx - 0.38 * s, cx - 0.38 * s], [cy - 0.45 * s, cy + 0.45 * s], color="#8a8a8a", lw=0.8)
        cell = 0.24 * s
        for r in range(2):
            for q in range(3):
                col = "#4a4a4a" if (r + q) % 2 == 0 else "#eeeeee"
                p_rect(cx - 0.34 * s + q * cell, cy - 0.42 * s + r * cell, cell, cell,
                       facecolor=col, edgecolor="none")


def info_line(renderer, prop, x0, y_center, line):
    def width(s):
        a = renderer.get_text_width_height_descent("|" + s + "|", prop, ismath=False)[0]
        b = renderer.get_text_width_height_descent("||", prop, ismath=False)[0]
        return a - b

    runs, buf = [], ""
    for ch in line:
        if ch in EMOJI:
            if buf:
                runs.append(buf)
                buf = ""
            runs.append(ch)
        else:
            buf += ch
    if buf:
        runs.append(buf)

    baseline = y_center + 0.36 * EM
    cursor = x0
    for run in runs:
        if run in EMOJI:
            draw_emoji(run, cursor + 0.63 * EM, y_center, 1.02 * EM)
            cursor += 1.27 * EM
            continue
        body = run.lstrip(" ")
        cursor += width(run[:len(run) - len(body)])
        if body:
            fig.text(fx(cursor), fy(baseline), body, ha="left", va="baseline",
                     fontsize=INFO_SIZE, color="#111111", family=["DejaVu Sans"])
            cursor += width(body)


fig = plt.figure(figsize=(19.2, 10.8), dpi=100)
fig.text(0.0495, 0.959, TITLE, fontsize=12.3, fontweight="bold", ha="left",
         va="center", color="#111111")

# ---- 1mn ----
ax = fig.add_axes([0.0411, 0.7806, 0.175, 0.1269])
x = times(MN_START, len(MN_CLOSE), "MS")
for t0, t1, y, kind in MN_LEVELS:
    level(ax, T(t0), T(t1), y, kind, ends=kind.startswith("top"))
draw_candles(ax, x, MN_OPEN, MN_HIGH, MN_LOW, MN_CLOSE, 20, lw=0.8, min_h=0.3)
dots(ax, MN_HI, "#008000")
dots(ax, MN_LO, "#ff0000")
color_bar(ax, MN_BAR, MN_BAR_Y)
style_axis(ax, (T("2021-03-05"), T("2027-09-18")), (118.7, 193.7),
           [T("2022-01-01"), T("2024-01-01"), T("2026-01-01")], ["2022", "2024", "2026"],
           [120, 140, 160, 180])
small_frame(ax)
tf_label(ax, "1mn")

# ---- 1w ----
ax = fig.add_axes([0.0411, 0.6037, 0.175, 0.1259])
x = times(W_START, len(W_CLOSE), "7D")
ax.fill_between([T(W_BOX[0]), T(W_BOX[1])], W_BOX[2], W_BOX[3], color="#e6e6e6",
                alpha=0.7, lw=0, zorder=0.5)
for t0, t1, y0, y1, kind in W_ZONES:
    zone(ax, T(t0), T(t1), y0, y1, kind)
for t0, t1, y, kind in W_LEVELS:
    level(ax, T(t0), T(t1), y, kind, ends=kind.startswith("top"))
draw_candles(ax, x, W_OPEN, W_HIGH, W_LOW, W_CLOSE, 4.6, lw=0.8, min_h=0.1)
dots(ax, W_HI, "#008000")
dots(ax, W_LO, "#ff0000")
color_bar(ax, W_BAR, W_BAR_Y)
style_axis(ax, (T("2025-05-11"), T("2026-11-12")), (164.6, 189.75),
           [T("2025-07-01"), T("2026-01-01"), T("2026-07-01")],
           ["Jul 2025", "Jan 2026", "Jul 2026"], [170, 180])
small_frame(ax)
tf_label(ax, "1w")

# ---- 1d ----
ax = fig.add_axes([0.0411, 0.4278, 0.175, 0.1259])
x = np.arange(len(D1_CLOSE))
h, l = wicks(D1_OPEN, D1_CLOSE, D1_WICK_HI, D1_WICK_LO)
for x0, x1, y0, y1, kind in D1_ZONES:
    zone(ax, x0, x1, y0, y1, kind)
for x0, x1, y, kind in D1_LEVELS:
    level(ax, x0, x1, y, kind, ends=kind.startswith("top"))
draw_candles(ax, x, D1_OPEN, h, l, D1_CLOSE, 0.65, lw=0.8, min_h=0.04)
dots(ax, D1_LO, "#ff0000", date=False)
style_axis(ax, (-6.2, 95), (178.66, 188.66), D1_XTICKS, D1_XLABELS, [180, 185])
small_frame(ax)
tf_label(ax, "1d")

# ---- 4h ----
ax = fig.add_axes([0.0411, 0.2509, 0.175, 0.1268])
x = times(H4_START, len(H4_CLOSE), "4h")
o4 = [H4_FIRST_OPEN] + H4_CLOSE[:-1]
h, l = wicks(o4, H4_CLOSE, H4_WICK_HI, H4_WICK_LO)
for t0, t1, y0, y1, kind in H4_ZONES:
    zone(ax, T(t0), T(t1), y0, y1, kind)
for t0, t1, y, kind in H4_LEVELS:
    level(ax, T(t0), T(t1), y, kind, ends=kind.startswith("top"))
draw_candles(ax, x, o4, h, l, H4_CLOSE, 0.1, lw=0.8, min_h=0.04)
dots(ax, H4_HI, "#008000")
dots(ax, H4_LO, "#ff0000")
color_bar(ax, H4_BAR, H4_BAR_Y)
style_axis(ax, (T("2026-07-28 14:24"), T("2026-08-15 21:50")), (178.6, 188.7),
           [T("2026-08-02"), T("2026-08-09")], ["Aug 2\n2026", "Aug 9"], [180, 185])
small_frame(ax)
tf_label(ax, "4h")

# ---- 1h ----
ax = fig.add_axes([0.0411, 0.0741, 0.175, 0.1269])
x = times(H1_START, len(H1_CLOSE), "h")
h, l = wicks(H1_OPEN, H1_CLOSE, H1_WICK_HI, H1_WICK_LO)
for t0, t1, y, kind in H1_LEVELS:
    level(ax, T(t0), T(t1), y, kind, ends=kind.startswith("top"))
draw_candles(ax, x, H1_OPEN, h, l, H1_CLOSE, 0.65 / 24, lw=0.8, min_h=0.008)
dots(ax, H1_HI, "#008000")
dots(ax, H1_LO, "#ff0000")
color_bar(ax, H1_BAR, H1_BAR_Y)
style_axis(ax, (T("2026-08-09 13:04"), T("2026-08-12 19:40")), (182.17, 184.11),
           [T("2026-08-10"), T("2026-08-11"), T("2026-08-12")],
           ["Aug 10\n2026", "Aug 11", "Aug 12"], [182.5, 183, 183.5, 184])
small_frame(ax)
tf_label(ax, "1h")

# ---- 15m ----
ax = fig.add_axes([0.2432, 0.6046, 0.5802, 0.3028])
x = times(M15_START, len(M15_CLOSE), "15min")
for t0, t1, y0, y1, kind in M15_ZONES:
    zone(ax, T(t0), T(t1), y0, y1, kind)
for t0, t1, y, kind in M15_LEVELS:
    level(ax, T(t0), T(t1), y, kind)
for y in (M15_HIGHS_1H, M15_HIGHS_15M):
    ax.plot([T(M15_START), T(M15_HIGH_SPLIT)], [y, y], color="#c4c4c4", lw=2, zorder=2)
    ax.plot([T(M15_HIGH_SPLIT), T(M15_END)], [y, y], color="#8c8c8c", lw=2, zorder=2)
    ax.plot([T(M15_START), T(M15_HIGH_SPLIT), T(M15_END)], [y, y, y], "o",
            color="#a8a8a8", ms=5.5, zorder=2)
draw_candles(ax, x, M15_OPEN, M15_HIGH, M15_LOW, M15_CLOSE, 0.45 / 96, lw=1.3, min_h=0.002)
dots(ax, M15_HI, "#008000", ms=5.5)
ax.annotate(f"1H HIGH - {M15_HIGHS_1H}", xy=(T(M15_START), M15_HIGHS_1H),
            xytext=(T("2026-08-12 15:32"), 184.018), ha="center", va="center",
            fontsize=8.5, color="#222222",
            arrowprops=dict(arrowstyle="-", color="#333333", lw=0.7, shrinkA=0, shrinkB=3))
ax.annotate(f"15M HIGH - {M15_HIGHS_15M}", xy=(T(M15_START), M15_HIGHS_15M),
            xytext=(T("2026-08-12 15:28"), 183.997), ha="center", va="center",
            fontsize=8.5, color="#222222",
            arrowprops=dict(arrowstyle="-", color="#333333", lw=0.7, shrinkA=0, shrinkB=3))
style_axis(ax, (T("2026-08-12 13:43"), T("2026-08-13 20:43")), (183.405, 184.036),
           [T(s) for s in M15_XTICKS], M15_XLABELS, M15_YTICKS)
for s in ax.spines.values():
    s.set_color("#7878ff")
    s.set_linewidth(2.6)
ax.spines["left"].set_color("#5050e0")
ax.spines["bottom"].set_color("#5050e0")
tf_label(ax, "15m")

# ---- 5m ----
ax = fig.add_axes([0.2432, 0.0759, 0.5802, 0.4778])
x = times(M5_START, len(M5_CLOSE), "5min")
o5 = [M5_FIRST_OPEN] + M5_CLOSE[:-1]
ax.fill_between([T(M5_ZONE_FROM), T(M5_END)], POS_PRICE, POS_SL, color="#c0c0c0",
                lw=0, zorder=0.5)
ax.fill_between([T(M5_ZONE_FROM), T(M5_END)], POS_TP, POS_PRICE, color="#80c080",
                lw=0, zorder=0.5)
for y in (POS_SL, POS_PRICE):
    ax.plot([T(M5_ZONE_FROM), T(M5_END)], [y, y], color="#707070", lw=1.2, zorder=0.6)
ax.plot([T(M5_END), T(M5_END)], [POS_TP, POS_SL], color="#909090", lw=1, zorder=0.6)
for t0, t1, y0, y1, kind in M5_ZONES:
    zone(ax, T(t0), T(t1), y0, y1, kind)
ax.plot([T(M5_START), T(M5_HIGH_SPLIT)], [M15_HIGHS_15M] * 2, color="#c08080", lw=2, alpha=0.6, zorder=2)
ax.plot([T(M5_HIGH_SPLIT), T(M5_END)], [M15_HIGHS_15M] * 2, color="#a04848", lw=2, alpha=0.7, zorder=2)
ax.plot([T(M5_START), T(M5_HIGH_SPLIT), T(M5_END)], [M15_HIGHS_15M] * 3, "o",
        color="#b06060", ms=6, alpha=0.7, zorder=2)
for t0, t1, y, kind in M5_LEVELS:
    level(ax, T(t0), T(t1), y, kind)
for t, y0, y1, kind in M5_LINKS:
    color, lw, alpha = LEVEL_STYLE[kind]
    ax.plot([T(t), T(t)], [y0, y1], color=color, lw=lw, alpha=alpha, zorder=2)
draw_candles(ax, x, o5, M5_HIGH, M5_LOW, M5_CLOSE, 0.8 / 288, lw=1.3, alpha=0.65, min_h=0.002,
             colors=("#3d963d", "#5aaa5a", "#5c5c68", "#74747f"))
color_bar(ax, M5_BAR_HI, M5_BAR_HI_Y, lw=2.4, edge="white")
color_bar(ax, M5_BAR_LO, M5_BAR_LO_Y, lw=4.5)
dots(ax, M5_HI, "#2e8b2e", ms=5.5, alpha=0.9)
dots(ax, M5_LO, "#d83a3a", ms=5.5, alpha=0.9)
dots(ax, M5_LO_DEEP, "#8b3a0a", ms=5.5, alpha=0.9)
for txt, y, ty in ((f"1H HIGH - {M15_HIGHS_1H}", M15_HIGHS_1H, 183.993),
                   (f"15M HIGH - {M15_HIGHS_15M}", M15_HIGHS_15M, 183.973)):
    ax.annotate(txt, xy=(T(M5_START), y), xytext=(T("2026-08-13 06:38"), ty),
                ha="center", va="center", fontsize=8.5, color="#222222",
                arrowprops=dict(arrowstyle="-", color="#333333", lw=0.7, shrinkA=0, shrinkB=3))
ax.annotate("5M LOW - 183.74", xy=(T("2026-08-13 17:05"), 183.739),
            xytext=(T("2026-08-13 16:45"), 183.791), ha="center", va="center",
            fontsize=8.5, color="#222222",
            arrowprops=dict(arrowstyle="-", color="#333333", lw=0.7, shrinkA=0, shrinkB=3))
style_axis(ax, (T(M5_ZONE_FROM), T("2026-08-13 21:27")), (POS_TP, 184.0),
           [T(s) for s in M5_XTICKS], M5_XLABELS, M5_YTICKS)
for s in ax.spines.values():
    s.set_color("#ff8080")
    s.set_linewidth(2.6)
ax.spines["left"].set_color("#c83c3c")
ax.spines["bottom"].set_color("#c83c3c")
tf_label(ax, "5m")

# ---- report text ----
renderer = fig.canvas.get_renderer()
prop = FontProperties(family=["DejaVu Sans"], size=INFO_SIZE)
for k, line in enumerate(INFO_LINES):
    if k in CENTER_ROWS:
        line = line.center(CENTER_WIDTH)
    elif k in LEGEND_ROWS:
        line = " " * LEGEND_INDENT + line
    info_line(renderer, prop, 1587, 89 + 12.37 * k, line)

fig.savefig("out.png", dpi=100)
